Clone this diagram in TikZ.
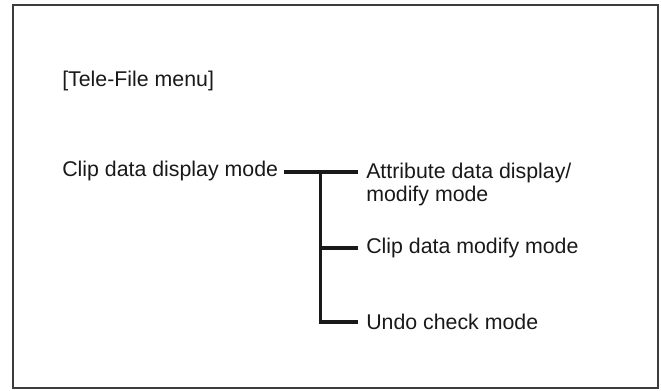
\documentclass[tikz,border=0pt]{standalone}
\usepackage{fontspec}
\setmainfont{Liberation Sans}
\usepackage{xcolor}
\definecolor{ink}{RGB}{25, 25, 25}
\usepackage{tikz}
\usetikzlibrary{positioning,calc}

\begin{document}
\begin{tikzpicture}[
  x=0.75pt, y=-0.75pt,
  menutext/.style={font=\fontsize{16}{17.3}\selectfont, color=ink, inner sep=0pt, anchor=west, align=left},
  framebox/.style={draw=ink!85, line width=1.5pt},
  branch/.style={line width=2.9pt, color=ink, shorten >=6pt}
]
\useasboundingbox (0,0) rectangle (661,390);
\draw[framebox] (12.5,5) rectangle (658,388);

\node[menutext] (title) at (62,80.5) {[Tele-File menu]};
\node[menutext] (root) at (62,171) {Clip data display mode};

\node[menutext] (attr) at (366,184.5) {Attribute data display/\\modify mode};
\node[menutext] (modify) at (366,248) {Clip data modify mode};
\node[menutext] (undo) at (366,322) {Undo check mode};

\coordinate (fork) at (320.5,172);

\draw[branch, shorten <=4.5pt] (root.east |- fork) -- (fork -| attr.west);
\draw[branch] (fork) |- (undo.west);
\draw[branch] (fork |- modify.west) -- (modify.west);
\end{tikzpicture}
\end{document}
